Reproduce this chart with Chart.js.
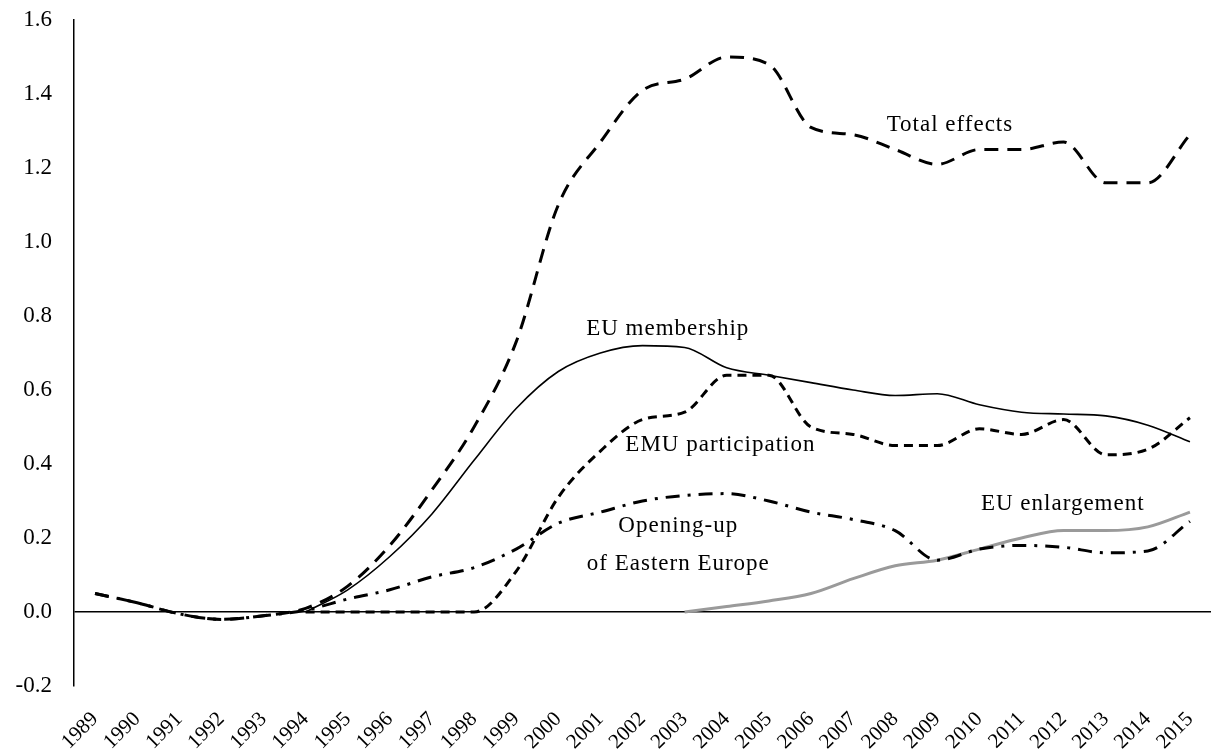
<!DOCTYPE html>
<html>
<head>
<meta charset="utf-8">
<script src="https://cdn.jsdelivr.net/npm/chart.js@4"></script>
<style>
  body { margin: 0; background: #fff; }
  #wrap { width: 1213px; height: 754px; }
</style>
</head>
<body>
<div id="wrap"><canvas id="c"></canvas></div>
<script>
const years = ['1989','1990','1991','1992','1993','1994','1995','1996','1997','1998','1999','2000','2001',
  '2002','2003','2004','2005','2006','2007','2008','2009','2010','2011','2012','2013','2014','2015'];

const totalEffects = [0.05, 0.025, -0.005, -0.02, -0.01, 0.01, 0.07, 0.18, 0.33, 0.50, 0.73, 1.10, 1.27,
  1.41, 1.44, 1.50, 1.48, 1.31, 1.29, 1.25, 1.21, 1.25, 1.25, 1.27, 1.16, 1.16, 1.29];

const euMembership = [null, null, null, null, null, 0.0, 0.06, 0.15, 0.265, 0.41, 0.55, 0.65, 0.70,
  0.72, 0.715, 0.66, 0.64, 0.62, 0.60, 0.585, 0.59, 0.56, 0.54, 0.535, 0.53, 0.505, 0.46];

const emuParticipation = [null, null, null, null, null, 0.0, 0.0, 0.0, 0.0, 0.0, 0.11, 0.31, 0.435,
  0.52, 0.54, 0.64, 0.64, 0.50, 0.48, 0.45, 0.45, 0.495, 0.48, 0.52, 0.425, 0.44, 0.525];

const openingUp = [0.05, 0.025, -0.005, -0.02, -0.01, 0.005, 0.035, 0.06, 0.095, 0.12, 0.17, 0.24, 0.27,
  0.30, 0.315, 0.32, 0.30, 0.27, 0.25, 0.22, 0.14, 0.17, 0.18, 0.175, 0.16, 0.165, 0.245];

const euEnlargement = [null, null, null, null, null, null, null, null, null, null, null, null, null,
  null, 0.0, 0.015, 0.03, 0.05, 0.09, 0.125, 0.14, 0.17, 0.20, 0.22, 0.22, 0.23, 0.27];

// text labels placed in data coordinates (category index, value)
const notes = [
  { text: 'Total effects', at: 20.3, v: 1.316 },
  { text: 'EU membership', at: 13.6, v: 0.765 },
  { text: 'EMU participation', at: 14.85, v: 0.451 },
  { text: 'Opening-up', at: 13.85, v: 0.232 },
  { text: 'of Eastern Europe', at: 13.85, v: 0.13 },
  { text: 'EU enlargement', at: 22.98, v: 0.292 }
];

const serif = '"Liberation Serif", "Times New Roman", serif';

const notesPlugin = {
  id: 'notes',
  afterDatasetsDraw(chart) {
    const { ctx, scales } = chart;
    ctx.save();
    ctx.font = '23px ' + serif;
    ctx.letterSpacing = '1px';
    ctx.fillStyle = '#000';
    ctx.textAlign = 'center';
    ctx.textBaseline = 'middle';
    notes.forEach(n => {
      ctx.fillText(n.text, scales.x.getPixelForValue(n.at), scales.y.getPixelForValue(n.v));
    });
    ctx.restore();
  }
};

function line(label, data, opts) {
  return Object.assign({
    label, data,
    borderColor: '#000',
    borderWidth: 3,
    pointRadius: 0,
    fill: false,
    cubicInterpolationMode: 'monotone',
    spanGaps: false
  }, opts);
}

new Chart(document.getElementById('c'), {
  type: 'line',
  data: {
    labels: years,
    datasets: [
      line('Total effects', totalEffects, { borderDash: [14, 9] }),
      line('EU membership', euMembership, { borderWidth: 1.6 }),
      line('EMU participation', emuParticipation, { borderDash: [9, 6] }),
      line('Opening-up of Eastern Europe', openingUp, { borderDash: [14, 8, 3, 8] }),
      line('EU enlargement', euEnlargement, { borderColor: '#9a9a9a', borderWidth: 3 })
    ]
  },
  options: {
    responsive: true,
    maintainAspectRatio: false,
    animation: false,
    layout: { padding: { left: 0, right: 2, top: 20, bottom: 0 } },
    plugins: {
      legend: { display: false },
      tooltip: { enabled: false }
    },
    scales: {
      x: {
        offset: true,
        grid: { display: false },
        border: { display: false },
        afterFit: s => { s.height = 68; s.paddingLeft = 0; s.paddingRight = 0; },
        ticks: {
          color: '#000',
          minRotation: 45,
          maxRotation: 45,
          autoSkip: false,
          padding: 13,
          font: { family: serif, size: 21 }
        }
      },
      y: {
        min: -0.2,
        max: 1.6,
        afterFit: s => { s.width = 74; s.paddingTop = 0; s.paddingBottom = 0; },
        grid: {
          drawTicks: false,
          lineWidth: 1.5,
          color: c => (c.tick && Math.abs(c.tick.value) < 1e-9) ? '#000' : 'rgba(0,0,0,0)'
        },
        border: { display: true, color: '#000', width: 1.5 },
        ticks: {
          stepSize: 0.2,
          color: '#000',
          padding: 22,
          font: { family: serif, size: 23 },
          callback: v => Number(v).toFixed(1)
        }
      }
    }
  },
  plugins: [notesPlugin]
});
</script>
</body>
</html>
